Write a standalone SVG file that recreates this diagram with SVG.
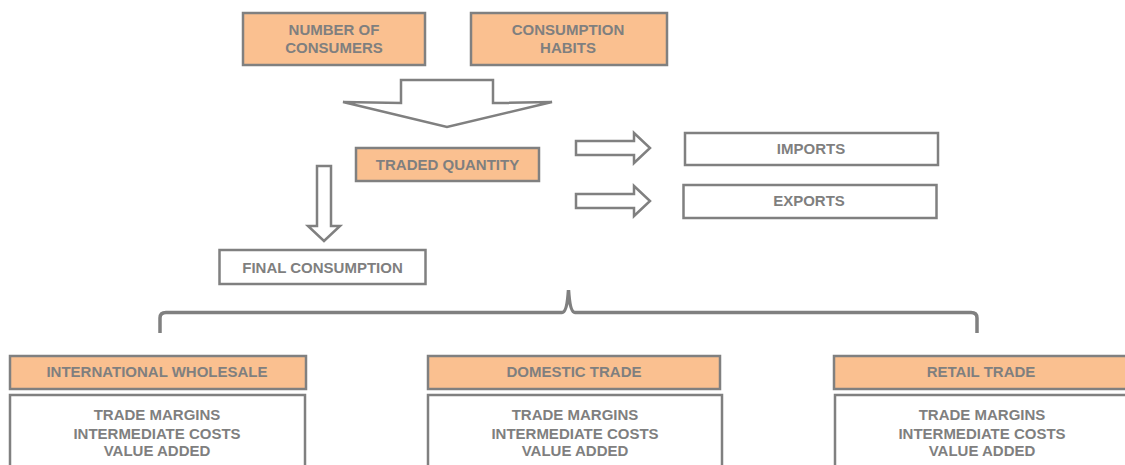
<svg xmlns="http://www.w3.org/2000/svg" width="1125" height="465" viewBox="0 0 1125 465">
<style>
.o{fill:#FAC090;stroke:#808080;stroke-width:2.5}
.w{fill:#FFFFFF;stroke:#808080;stroke-width:2.5}
.a{fill:#FFFFFF;stroke:#808080;stroke-width:2.5;stroke-linejoin:miter}
.t{font-family:"Liberation Sans",Arial,sans-serif;font-weight:bold;font-size:15px;fill:#7F7F7F;text-anchor:middle}
.br{fill:none;stroke:#808080;stroke-width:3.5;stroke-linecap:butt}
</style>
<rect width="1125" height="465" fill="#FFFFFF"/>
<g id="connectors">
<polygon class="a" points="401,80 493,80 493,103 552,102 447,127 343,102 401,103"/>
<polygon class="a" points="576,141 634,141 634,133 650,148 634,163 634,155 576,155"/>
<polygon class="a" points="576,194 634,194 634,186 650,201 634,216 634,208 576,208"/>
<polygon class="a" points="317,166 331,166 331,226 340,226 324,241 308,226 317,226"/>
<path class="br" d="M160,333 V318 Q160,312.5 166,312.5 H562 Q567,312.5 568.5,290 Q570,312.5 575,312.5 H971 Q977,312.5 977,318 V333"/>
</g>
<g id="number-of-consumers">
<rect class="o" x="243" y="13" width="182" height="52"/>
<text class="t" x="334" y="35.4">NUMBER OF</text>
<text class="t" x="334" y="53">CONSUMERS</text>
</g>
<g id="consumption-habits">
<rect class="o" x="471" y="13" width="196" height="52"/>
<text class="t" x="568" y="35.4">CONSUMPTION</text>
<text class="t" x="568" y="53">HABITS</text>
</g>
<g id="traded-quantity">
<rect class="o" x="356" y="148" width="183" height="33"/>
<text class="t" x="447.5" y="170">TRADED QUANTITY</text>
</g>
<g id="imports">
<rect class="w" x="685" y="133" width="253" height="32"/>
<text class="t" x="811" y="153.7">IMPORTS</text>
</g>
<g id="exports">
<rect class="w" x="683.5" y="185" width="253" height="33"/>
<text class="t" x="809" y="206.4">EXPORTS</text>
</g>
<g id="final-consumption">
<rect class="w" x="219.5" y="250" width="206" height="34"/>
<text class="t" x="322.5" y="272.7">FINAL CONSUMPTION</text>
</g>
<g id="international-wholesale">
<rect class="o" x="10" y="356" width="296" height="33"/>
<text class="t" x="157" y="377.4">INTERNATIONAL WHOLESALE</text>
</g>
<g id="international-wholesale-details">
<rect class="w" x="10" y="395" width="295" height="80"/>
<text class="t" x="157" y="420.4">TRADE MARGINS</text>
<text class="t" x="157" y="438.7">INTERMEDIATE COSTS</text>
<text class="t" x="157" y="456.4">VALUE ADDED</text>
</g>
<g id="domestic-trade">
<rect class="o" x="428" y="356" width="292" height="33"/>
<text class="t" x="574" y="377.4">DOMESTIC TRADE</text>
</g>
<g id="domestic-trade-details">
<rect class="w" x="428" y="395" width="294" height="80"/>
<text class="t" x="575" y="420.4">TRADE MARGINS</text>
<text class="t" x="575" y="438.7">INTERMEDIATE COSTS</text>
<text class="t" x="575" y="456.4">VALUE ADDED</text>
</g>
<g id="retail-trade">
<rect class="o" x="834" y="356" width="300" height="33"/>
<text class="t" x="981" y="377.4">RETAIL TRADE</text>
</g>
<g id="retail-trade-details">
<rect class="w" x="835" y="395" width="300" height="80"/>
<text class="t" x="982" y="420.4">TRADE MARGINS</text>
<text class="t" x="982" y="438.7">INTERMEDIATE COSTS</text>
<text class="t" x="982" y="456.4">VALUE ADDED</text>
</g>
</svg>
